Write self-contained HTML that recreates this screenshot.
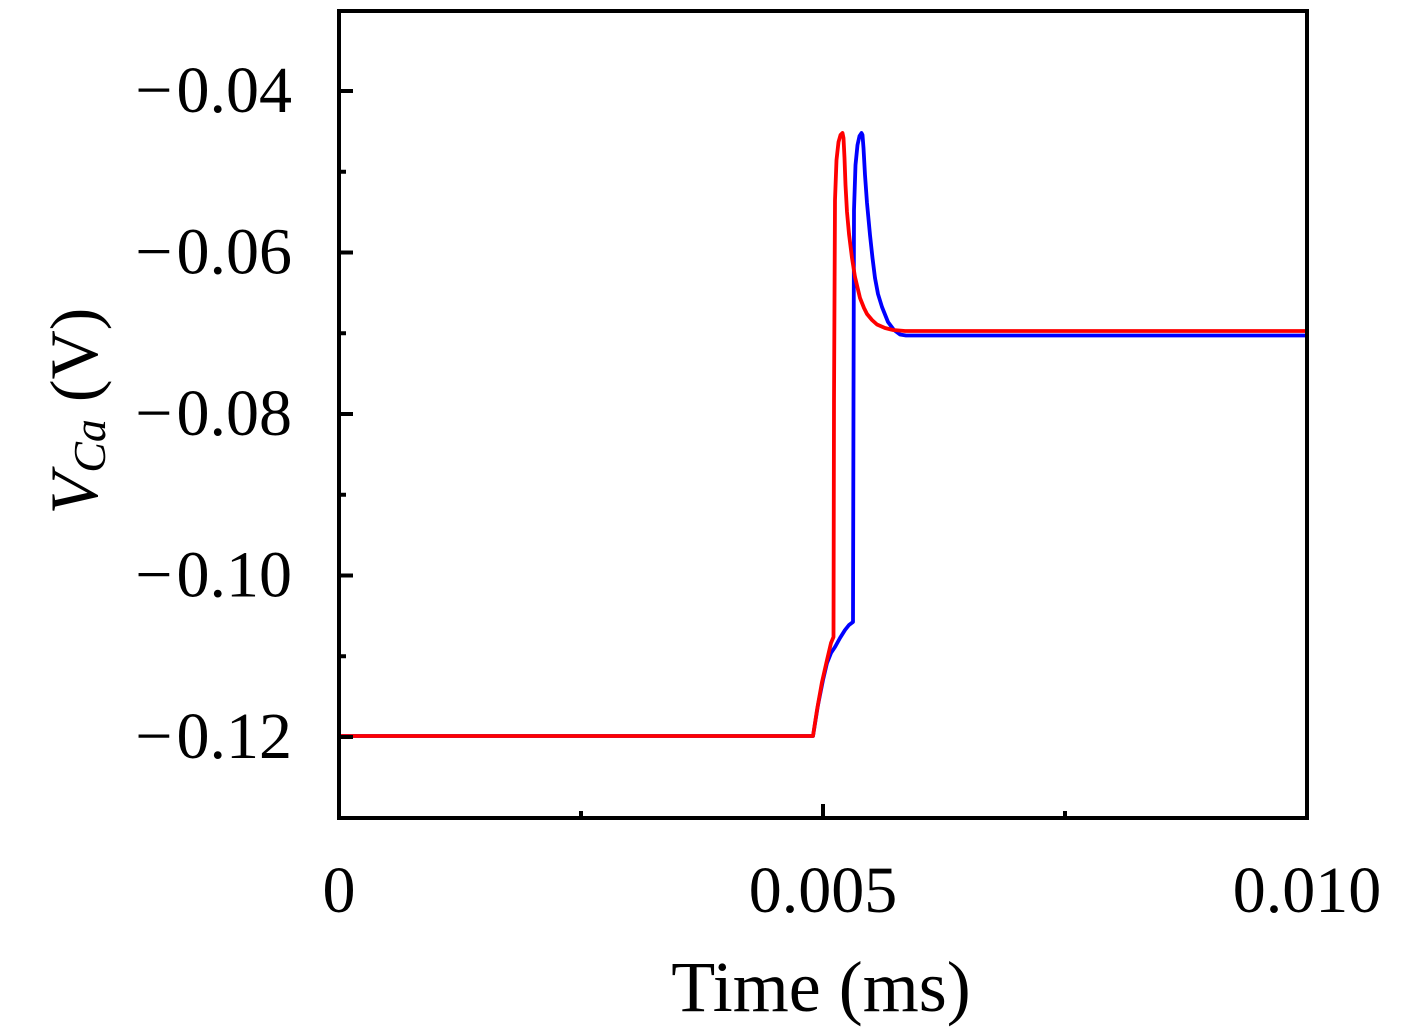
<!DOCTYPE html>
<html>
<head>
<meta charset="utf-8">
<style>
  html, body { margin: 0; padding: 0; background: #ffffff; }
  body { width: 1417px; height: 1035px; overflow: hidden; }
  svg { display: block; }
  text { font-family: "Liberation Serif", "DejaVu Serif", serif; fill: #000; }
</style>
</head>
<body>
<svg width="1417" height="1035" viewBox="0 0 1417 1035" xmlns="http://www.w3.org/2000/svg">
  <rect x="0" y="0" width="1417" height="1035" fill="#ffffff"/>

  <!-- Data: blue -->
  <polyline fill="none" stroke="#0000ff" stroke-width="3.8" stroke-linejoin="round" stroke-linecap="butt"
    points="341,736 813,736 818,705 823,680 827,663 831,653 835,647 840,638 845,630 849,625 853,622 853.5,400 854,210 855.5,165 857.5,145 859.5,136 861.5,133 862.5,135 863.5,148 865,175 867,203 870,235 872.5,258 875,278 878,294 882,307 888,322 894,330 900,334.5 906,335.5 1305,335.5"/>

  <!-- Data: red -->
  <polyline fill="none" stroke="#ff0000" stroke-width="3.8" stroke-linejoin="round" stroke-linecap="butt"
    points="341,736 813,736 817,710 822,682 827,660 831,643 833.5,637 834,400 835,200 836.5,160 838.5,142 840.5,135 842.5,133 843.5,138 844.5,158 845.5,185 847,212 849,234 852,258 855,277 860,298 864,308 867,314 872,320 877,324.5 885,328 893,330 905,331 1305,331"/>

  <!-- Spines -->
  <rect x="339" y="11" width="968" height="807" fill="none" stroke="#000" stroke-width="4"/>

  <!-- Ticks -->
  <g stroke="#000" stroke-width="4">
    <line x1="339" y1="91" x2="353" y2="91"/>
    <line x1="339" y1="252.5" x2="353" y2="252.5"/>
    <line x1="339" y1="414" x2="353" y2="414"/>
    <line x1="339" y1="575.5" x2="353" y2="575.5"/>
    <line x1="339" y1="737" x2="353" y2="737"/>
    <line x1="339" y1="171.75" x2="346" y2="171.75"/>
    <line x1="339" y1="333.25" x2="346" y2="333.25"/>
    <line x1="339" y1="494.75" x2="346" y2="494.75"/>
    <line x1="339" y1="656.25" x2="346" y2="656.25"/>
    <line x1="823" y1="818" x2="823" y2="804"/>
    <line x1="581" y1="818" x2="581" y2="811"/>
    <line x1="1065" y1="818" x2="1065" y2="811"/>
  </g>

  <!-- Y tick labels -->
  <g font-size="66" text-anchor="end">
    <text x="292" y="112"><tspan transform="scale(1.2,1)">−</tspan><tspan dx="4">0.04</tspan></text>
    <text x="292" y="273.5"><tspan>−</tspan><tspan dx="4">0.06</tspan></text>
    <text x="292" y="435"><tspan>−</tspan><tspan dx="4">0.08</tspan></text>
    <text x="292" y="596.5"><tspan>−</tspan><tspan dx="4">0.10</tspan></text>
    <text x="292" y="758"><tspan>−</tspan><tspan dx="4">0.12</tspan></text>
  </g>

  <!-- X tick labels -->
  <g font-size="66" text-anchor="middle">
    <text x="339" y="912">0</text>
    <text x="823" y="912">0.005</text>
    <text x="1307" y="912">0.010</text>
  </g>

  <!-- X axis label -->
  <text x="821" y="1011" font-size="72" text-anchor="middle">Time (ms)</text>

  <!-- Y axis label -->
  <text transform="translate(97,411) rotate(-90)" font-size="68" text-anchor="middle"><tspan font-style="italic">V</tspan><tspan font-style="italic" font-size="46" dy="8">Ca</tspan><tspan dy="-8"> (V)</tspan></text>
</svg>
</body>
</html>
